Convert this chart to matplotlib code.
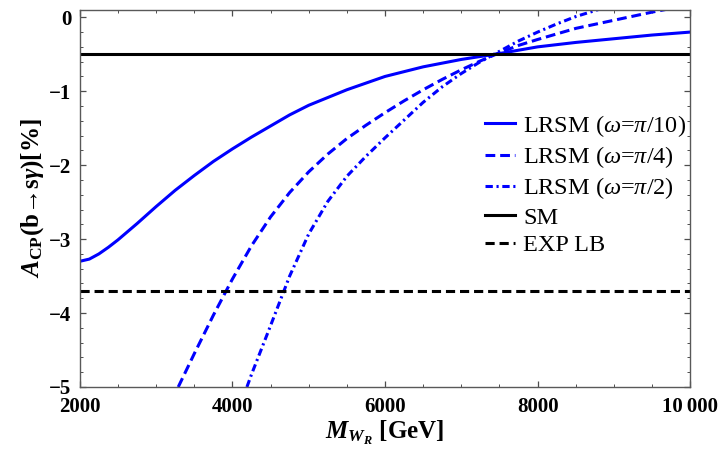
import numpy as np
import matplotlib
matplotlib.use('Agg')
import matplotlib.pyplot as plt
from matplotlib.ticker import MultipleLocator

plt.rcParams['font.family'] = ['Liberation Serif', 'DejaVu Serif']
plt.rcParams['mathtext.fontset'] = 'custom'
plt.rcParams['mathtext.rm'] = 'Liberation Serif'
plt.rcParams['mathtext.it'] = 'Liberation Serif:italic'
plt.rcParams['mathtext.bf'] = 'Liberation Serif:bold'
plt.rcParams['mathtext.bfit'] = 'Liberation Serif:italic:bold'

# A_CP(b -> s gamma) in %
m_pi10 = [2000, 2125, 2250, 2375, 2500, 2750, 3000, 3250, 3500, 3750, 4000, 4250, 4500, 4750, 5000,
          5500, 6000, 6500, 7000, 7500, 8000, 8500, 9000, 9500, 10000]
acp_pi10 = [-3.30, -3.27, -3.20, -3.11, -3.01, -2.79, -2.56, -2.34, -2.14, -1.95, -1.78, -1.62, -1.47, -1.32, -1.19,
            -0.98, -0.80, -0.67, -0.57, -0.49, -0.40, -0.34, -0.29, -0.24, -0.20]

m_pi4 = [3290, 3500, 3750, 4000, 4250, 4500, 4750, 5000, 5250, 5500, 5750, 6000, 6250, 6500,
         6750, 7000, 7250, 7500, 7750, 8000, 8500, 9000, 9500, 10000]
acp_pi4 = [-5.0, -4.55, -4.03, -3.54, -3.09, -2.70, -2.37, -2.09, -1.85, -1.64, -1.46, -1.29, -1.13, -0.98,
           -0.84, -0.71, -0.59, -0.48, -0.38, -0.30, -0.15, -0.04, 0.07, 0.17]

m_pi2 = [4190, 4250, 4500, 4750, 5000, 5250, 5500, 5750, 6000, 6250, 6500, 6750, 7000,
         7250, 7500, 7750, 8000, 8250, 8500, 8750, 9000]
acp_pi2 = [-5.0, -4.83, -4.17, -3.50, -2.93, -2.49, -2.15, -1.88, -1.63, -1.39, -1.15, -0.94, -0.76,
           -0.60, -0.46, -0.32, -0.20, -0.09, 0.01, 0.09, 0.17]

sm_value = -0.5
exp_lb = -3.7

x_ticks = [2000, 4000, 6000, 8000, 10000]
x_ticklabels = ['2000', '4000', '6000', '8000', '10\u2009000']
y_ticks = [-5, -4, -3, -2, -1, 0]
y_ticklabels = ['\u22125', '\u22124', '\u22123', '\u22122', '\u22121', '0']

labels = [r'LRSM ($\omega$=$\pi$/10)', r'LRSM ($\omega$=$\pi$/4)',
          r'LRSM ($\omega$=$\pi$/2)', 'SM', 'EXP LB']

fig = plt.figure(figsize=(7.19, 4.5), dpi=100)
ax = fig.add_axes([0.111, 0.140, 0.849, 0.838])

blue = (0, 0, 1)
lw = 2.2
ax.plot(m_pi10, acp_pi10, color=blue, lw=lw, label=labels[0])
ax.plot(m_pi4, acp_pi4, color=blue, lw=lw, dashes=(3.2, 1.6), label=labels[1])
ax.plot(m_pi2, acp_pi2, color=blue, lw=lw, dashes=(2.4, 1.2, 0.7, 1.2), label=labels[2])
ax.axhline(sm_value, color='black', lw=lw, label=labels[3])
ax.axhline(exp_lb, color='black', lw=lw, dashes=(3.0, 1.6), label=labels[4])

ax.set_xlim(2000, 10000)
ax.set_ylim(-5, 0.1)

ax.set_xticks(x_ticks, x_ticklabels)
ax.set_yticks(y_ticks, y_ticklabels)
ax.xaxis.set_minor_locator(MultipleLocator(500))
ax.yaxis.set_minor_locator(MultipleLocator(0.2))
ax.tick_params(which='both', direction='in', top=True, right=True, color='0.3')
ax.tick_params(which='major', length=4, width=0.9, labelsize=15)
ax.tick_params(axis='x', which='major', pad=7.5)
ax.tick_params(axis='y', which='major', pad=6)
ax.tick_params(which='minor', length=2.3, width=0.7)
for lab in ax.get_xticklabels() + ax.get_yticklabels():
    lab.set_fontweight('bold')
for sp in ax.spines.values():
    sp.set_color('0.35')
    sp.set_linewidth(1.0)

ax.set_xlabel(r'$\mathbfit{M}_{\mathbfit{W}_{\mathbfit{R}}}$ [GeV]', fontsize=18, fontweight='bold', labelpad=1)
ax.set_ylabel(r'$\mathbfit{A}_{\mathbf{CP}}$(b→s$\mathbfit{\gamma}$)[%]', fontsize=18, fontweight='bold', labelpad=2)

ax.legend(loc='upper left', bbox_to_anchor=(0.664, 0.727), frameon=False, fontsize=17.5,
          handlelength=1.23, handletextpad=0.33, labelspacing=0.22, borderpad=0, borderaxespad=0)

fig.savefig('out.png', dpi=100)
